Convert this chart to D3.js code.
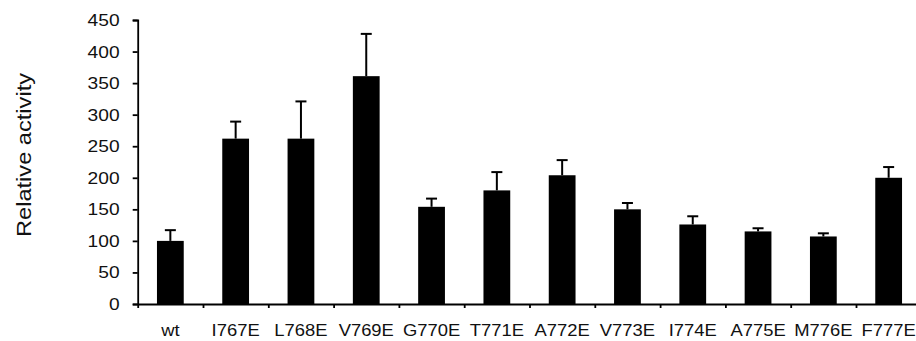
<!DOCTYPE html>
<html>
<head>
<meta charset="utf-8">
<script src="https://cdn.jsdelivr.net/npm/d3@7"></script>
<style>
  body { margin: 0; background: #fff; }
  svg { display: block; font-family: "Liberation Sans", Arial, sans-serif; }
  .axis path, .axis line { stroke: #000; stroke-width: 1.8; }
  .axis text { fill: #111; }
</style>
</head>
<body>
<svg id="chart"></svg>
<script>
// values
const categories = ['wt', 'I767E', 'L768E', 'V769E', 'G770E', 'T771E', 'A772E', 'V773E', 'I774E', 'A775E', 'M776E', 'F777E'];
const means = [100, 262, 262, 361, 154, 180, 204, 150, 126, 115, 107, 200];
const errors = [17, 27, 59, 67, 13, 29, 24, 10, 13, 5, 5, 17];
const yTicks = [0, 50, 100, 150, 200, 250, 300, 350, 400, 450];

const config = {
  width: 916, height: 341,
  margin: {top: 20, left: 137.7, bottom: 37}
};
const step = 65.3;
const innerW = step * categories.length;
const innerH = config.height - config.margin.top - config.margin.bottom;

const svg = d3.select('#chart')
    .attr('width', config.width)
    .attr('height', config.height);

const chart = svg.append('g')
    .attr('transform', `translate(${config.margin.left},${config.margin.top})`);

const xScale = d3.scaleBand()
    .domain(categories)
    .range([0, innerW])
    .paddingInner(0.59)
    .paddingOuter(0.295);

const yScale = d3.scaleLinear()
    .domain([0, 450])
    .range([innerH, 0]);

// y axis
const yAxisG = chart.append('g')
    .attr('class', 'axis y-axis')
    .call(d3.axisLeft(yScale).tickValues(yTicks).tickSize(5).tickSizeOuter(5));
yAxisG.selectAll('text')
    .attr('x', -16)
    .attr('font-size', 17)
    .attr('transform', 'scale(1.13,1)');

// x axis: ticks sit between categories
const xEdge = d3.scaleLinear().domain([0, categories.length]).range([0, innerW]);
chart.append('g')
    .attr('class', 'axis x-axis')
    .attr('transform', `translate(0,${innerH})`)
    .call(d3.axisBottom(xEdge).ticks(categories.length).tickFormat('').tickSize(4).tickSizeOuter(0));

// category labels
const labelG = chart.append('g')
    .attr('class', 'axis x-labels')
    .attr('transform', `translate(0,${innerH})`)
    .call(d3.axisBottom(xScale).tickSize(0));
labelG.select('.domain').remove();
labelG.selectAll('text')
    .attr('y', 32)
    .attr('dy', 0)
    .attr('font-size', 16)
    .attr('transform', 'scale(1.15,1)')
    .attr('x', d => 0);

// bars
chart.selectAll('.bar')
    .data(categories)
    .enter()
  .append('rect')
    .attr('class', 'bar')
    .attr('x', d => xScale(d))
    .attr('width', xScale.bandwidth())
    .attr('y', (d, i) => yScale(means[i]))
    .attr('height', (d, i) => innerH - yScale(means[i]))
    .attr('fill', '#000');

// error bars (upper only)
const errG = chart.selectAll('.err')
    .data(categories)
    .enter()
  .append('g')
    .attr('class', 'err')
    .attr('stroke', '#000')
    .attr('stroke-width', 2);

errG.append('line')
    .attr('x1', d => xScale(d) + xScale.bandwidth() / 2)
    .attr('x2', d => xScale(d) + xScale.bandwidth() / 2)
    .attr('y1', (d, i) => yScale(means[i]))
    .attr('y2', (d, i) => yScale(means[i] + errors[i]));

errG.append('line')
    .attr('x1', d => xScale(d) + xScale.bandwidth() / 2 - 5.5)
    .attr('x2', d => xScale(d) + xScale.bandwidth() / 2 + 5.5)
    .attr('y1', (d, i) => yScale(means[i] + errors[i]))
    .attr('y2', (d, i) => yScale(means[i] + errors[i]));

// y axis title
svg.append('text')
    .attr('transform', 'translate(31,155) rotate(-90)')
    .attr('text-anchor', 'middle')
    .attr('font-size', 21)
    .attr('fill', '#111')
    .attr('textLength', 164)
    .attr('lengthAdjust', 'spacingAndGlyphs')
    .text('Relative activity');
</script>
</body>
</html>
